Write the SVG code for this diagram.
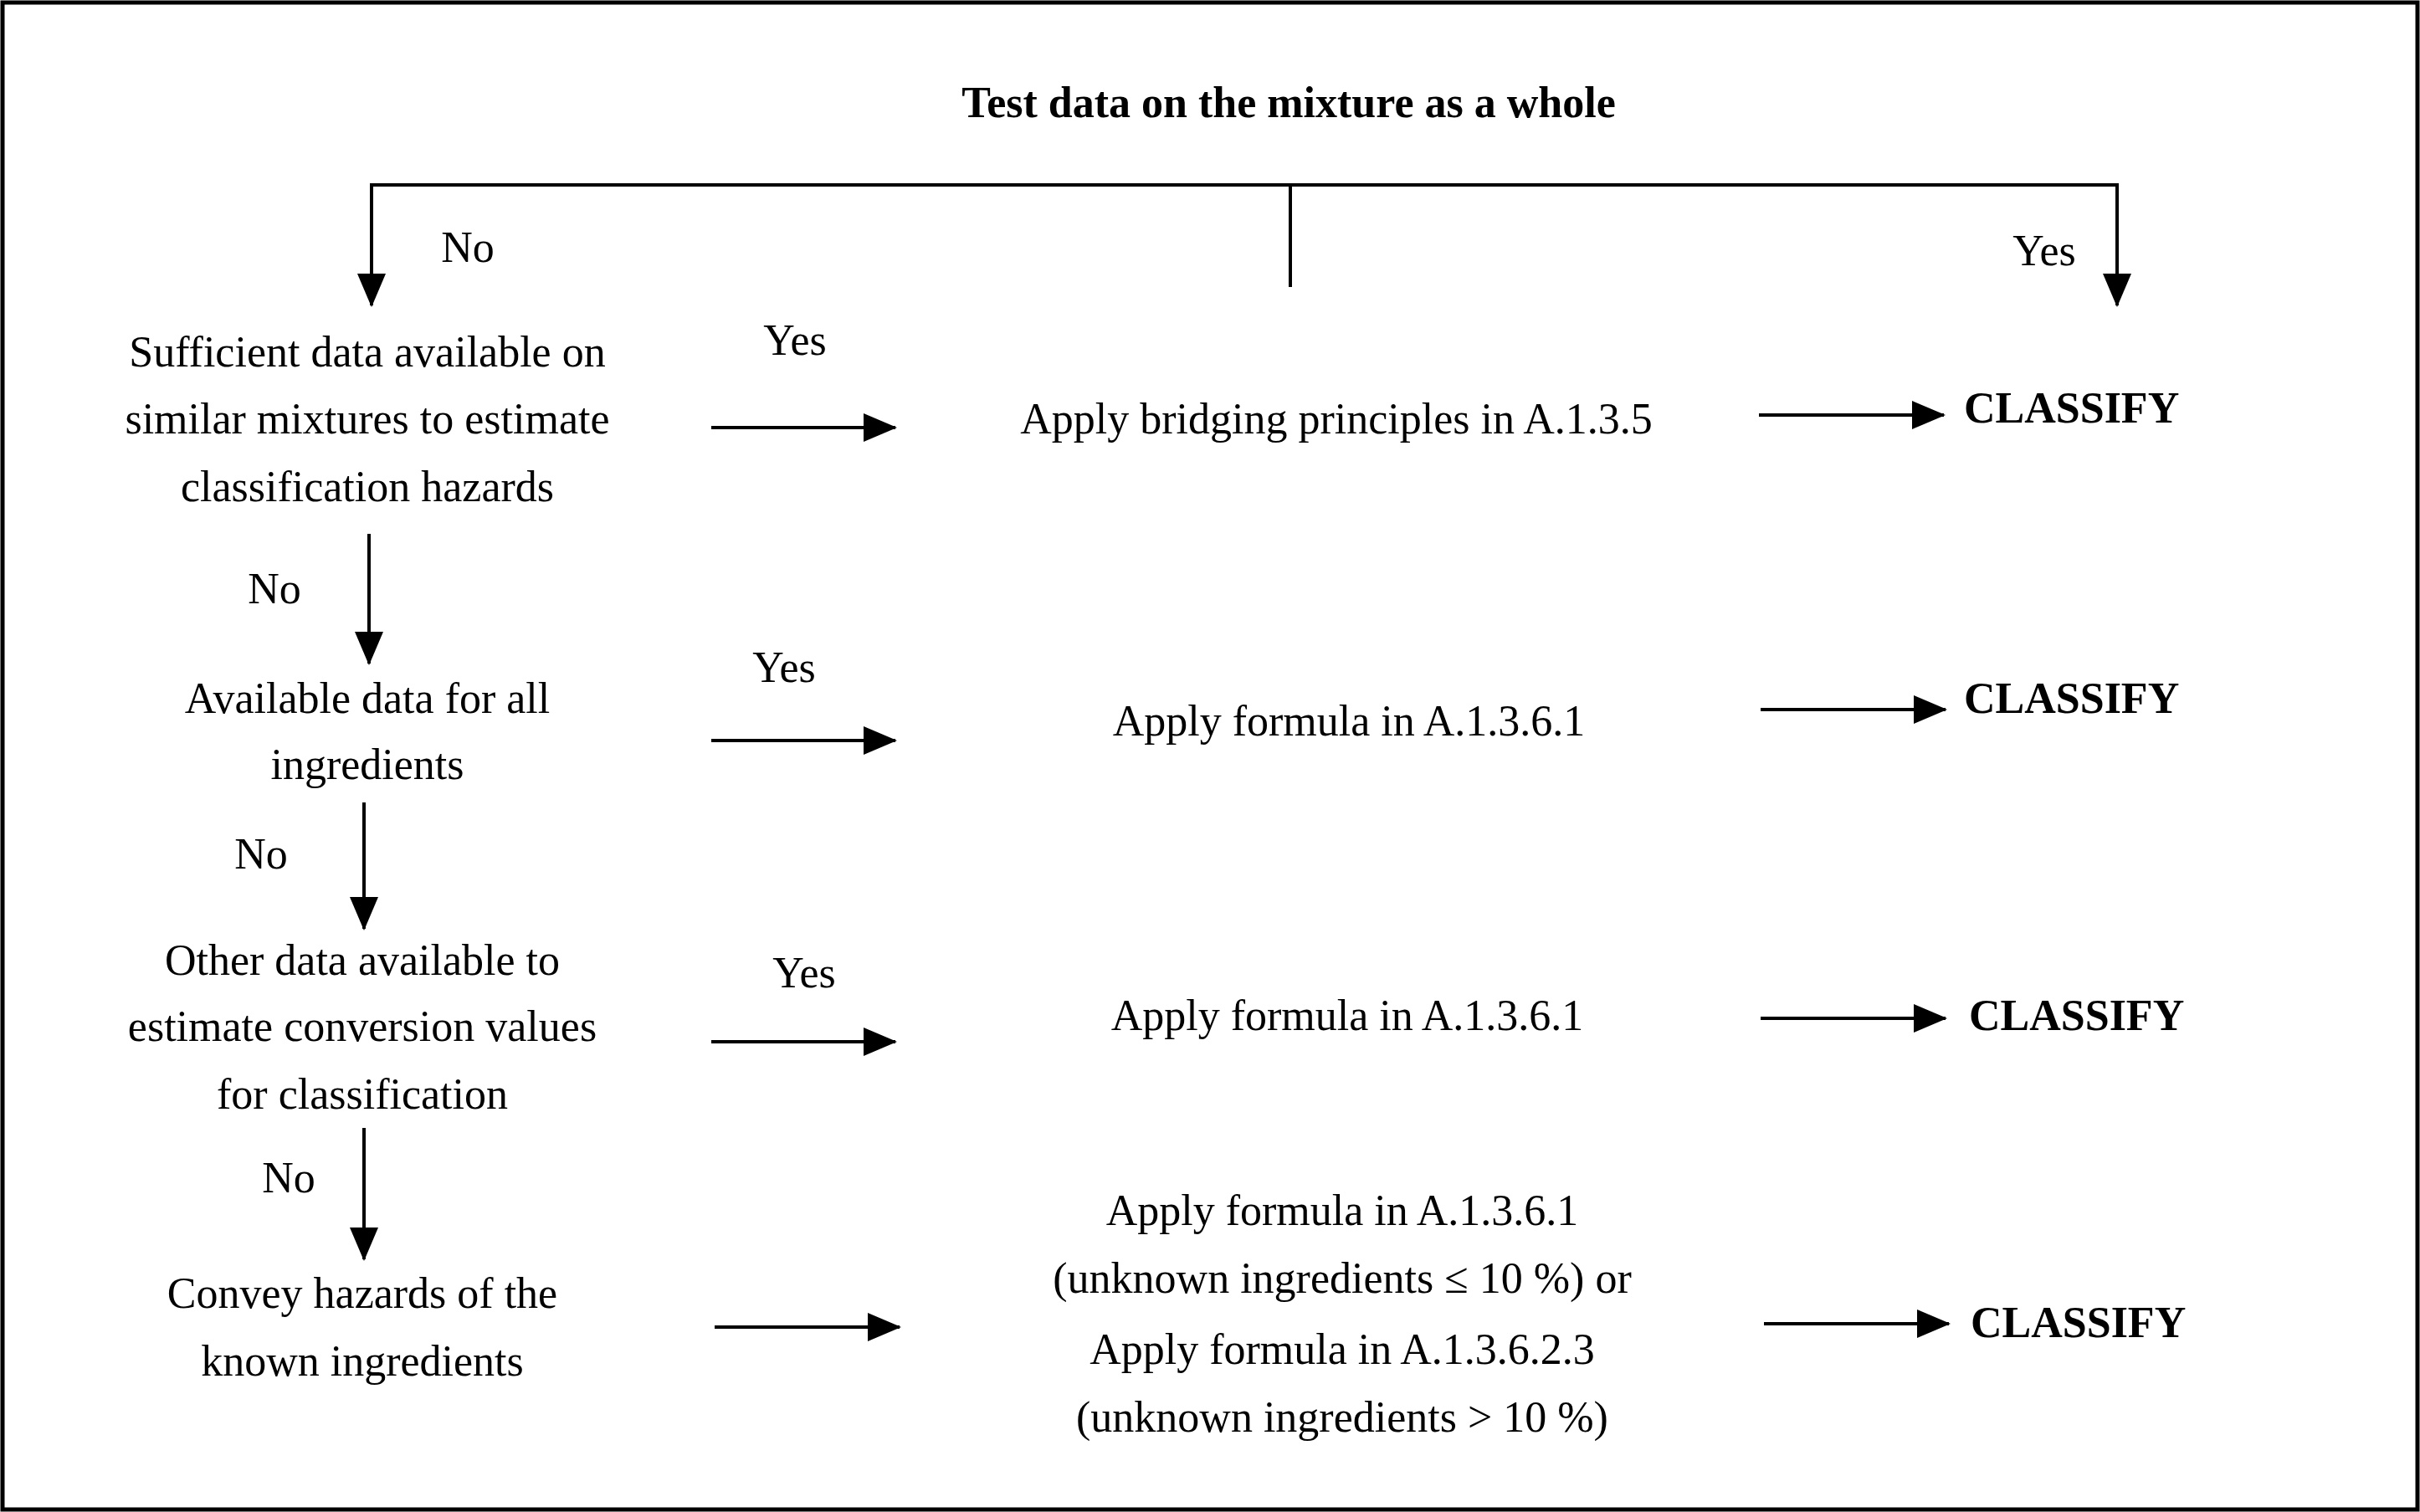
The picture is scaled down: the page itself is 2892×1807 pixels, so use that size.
<svg xmlns="http://www.w3.org/2000/svg" width="2892" height="1807" viewBox="0 0 2892 1807">
<style>
text{font-family:"Liberation Serif","Times New Roman",serif;font-size:52px;fill:#000;text-anchor:middle;dominant-baseline:central}
.b{font-weight:bold}
.l{text-anchor:start}
.c line,.c path{stroke:#000;stroke-width:4;fill:none}
</style>
<defs>
<marker id="ah" markerUnits="userSpaceOnUse" markerWidth="40" markerHeight="34" refX="38" refY="17" orient="auto">
<path d="M0,0 L40,17 L0,34 Z" fill="#000"/>
</marker>
</defs>
<rect x="0" y="0" width="2892" height="1807" fill="#fff"/>
<rect x="3" y="3" width="2886" height="1801" fill="none" stroke="#000" stroke-width="5"/>
<g class="c" id="connectors">
<path d="M444,221 H2530"/>
<line x1="1542" y1="221" x2="1542" y2="343"/>
<line x1="444" y1="219" x2="444" y2="365" marker-end="url(#ah)"/>
<line x1="2530" y1="219" x2="2530" y2="365" marker-end="url(#ah)"/>
<line x1="850" y1="511" x2="1070" y2="511" marker-end="url(#ah)"/>
<line x1="2102" y1="496" x2="2323" y2="496" marker-end="url(#ah)"/>
<line x1="441" y1="638" x2="441" y2="793" marker-end="url(#ah)"/>
<line x1="850" y1="885" x2="1070" y2="885" marker-end="url(#ah)"/>
<line x1="2104" y1="848" x2="2325" y2="848" marker-end="url(#ah)"/>
<line x1="435" y1="959" x2="435" y2="1110" marker-end="url(#ah)"/>
<line x1="850" y1="1245" x2="1070" y2="1245" marker-end="url(#ah)"/>
<line x1="2104" y1="1217" x2="2325" y2="1217" marker-end="url(#ah)"/>
<line x1="435" y1="1348" x2="435" y2="1505" marker-end="url(#ah)"/>
<line x1="854" y1="1586" x2="1075" y2="1586" marker-end="url(#ah)"/>
<line x1="2108" y1="1582" x2="2329" y2="1582" marker-end="url(#ah)"/>
</g>
<g id="labels">
<text x="559" y="295">No</text>
<text x="2443" y="299">Yes</text>
<text x="950" y="406">Yes</text>
<text x="328" y="703">No</text>
<text x="937" y="797">Yes</text>
<text x="312" y="1020">No</text>
<text x="961" y="1162">Yes</text>
<text x="345" y="1407">No</text>
</g>
<g id="title"><text class="b" x="1540" y="122">Test data on the mixture as a whole</text></g>
<g id="q1"><text x="439" y="420">Sufficient data available on</text><text x="439" y="500">similar mixtures to estimate</text><text x="439" y="581">classification hazards</text></g>
<g id="a1"><text x="1597" y="500">Apply bridging principles in A.1.3.5</text></g>
<g id="c1"><text class="b l" x="2347" y="487">CLASSIFY</text></g>
<g id="q2"><text x="439" y="834">Available data for all</text><text x="439" y="913">ingredients</text></g>
<g id="a2"><text x="1612" y="861">Apply formula in A.1.3.6.1</text></g>
<g id="c2"><text class="b l" x="2347" y="834">CLASSIFY</text></g>
<g id="q3"><text x="433" y="1147">Other data available to</text><text x="433" y="1226">estimate conversion values</text><text x="433" y="1307">for classification</text></g>
<g id="a3"><text x="1610" y="1213">Apply formula in A.1.3.6.1</text></g>
<g id="c3"><text class="b l" x="2353" y="1213">CLASSIFY</text></g>
<g id="q4"><text x="433" y="1545">Convey hazards of the</text><text x="433" y="1626">known ingredients</text></g>
<g id="a4"><text x="1604" y="1446">Apply formula in A.1.3.6.1</text><text x="1604" y="1527">(unknown ingredients ≤ 10 %) or</text><text x="1604" y="1612">Apply formula in A.1.3.6.2.3</text><text x="1604" y="1693">(unknown ingredients &gt; 10 %)</text></g>
<g id="c4"><text class="b l" x="2355" y="1580">CLASSIFY</text></g>
</svg>
